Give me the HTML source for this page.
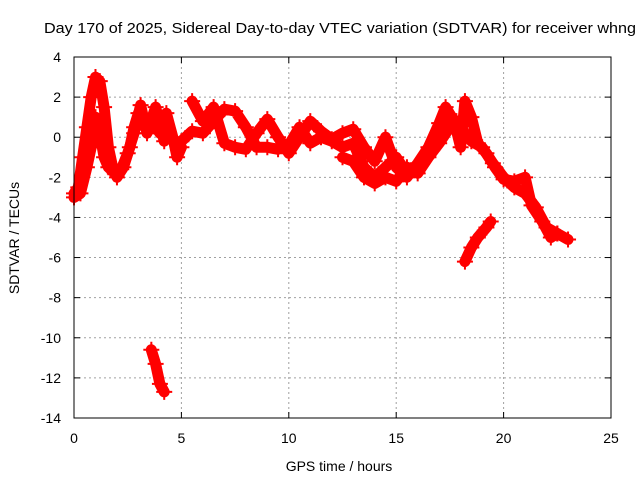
<!DOCTYPE html>
<html><head><meta charset="utf-8"><style>
html,body{margin:0;padding:0;background:#fff;}
svg{display:block;font-family:"Liberation Sans",sans-serif;}
</style></head><body>
<svg id="chart" width="640" height="480" viewBox="0 0 640 480">
<text x="44" y="33" font-size="15" textLength="592" lengthAdjust="spacingAndGlyphs" fill="#000">Day 170 of 2025, Sidereal Day-to-day VTEC variation (SDTVAR) for receiver whng</text>
<g id="grid"></g>
<g id="axes"></g>
<g id="series"></g>
<rect x="74" y="57" width="537" height="361" fill="none" stroke="#000" stroke-width="1"/>
<text x="339" y="471" font-size="14" text-anchor="middle">GPS time / hours</text>
<text transform="translate(19,238) rotate(-90)" font-size="14" text-anchor="middle">SDTVAR / TECUs</text>
</svg>
<script>
const xTicks=[0,5,10,15,20,25];
const yTicks=[-14,-12,-10,-8,-6,-4,-2,0,2,4];
const trackA_t=[0,0.2,0.4,0.6,0.8,1.0,1.2,1.4,1.6,1.8,2.0,2.3,2.6,2.8,3.0,3.3,3.6,4.0,4.3,4.6,4.8,5.0];
const trackA_v=[-2.8,-2.5,-1,0.5,2,3,2.8,1.5,-0.5,-1.5,-2.0,-1.5,-0.5,0.5,1.2,0.5,0.8,0.2,1.2,0,-1.0,-0.5];
const trackB_t=[0,0.3,0.6,0.8,1.0,1.2,1.4,1.6,1.9,2.2,2.5,2.8,3.1,3.4,3.8,4.2];
const trackB_v=[-3,-2.8,-1.5,-0.5,1.0,0.2,-1,-1.5,-1.8,-1.6,-0.8,0.2,1.6,0.2,1.5,-0.2];
const trackC_t=[5,5.5,6,6.5,7,7.5,8,8.5,9,9.5,10,10.5,11,11.5,12,12.5,13,13.5,14,14.5,15,15.5,16,16.5,17,17.5,17.8,18.2,18.5,19,19.5,20,20.5,21,21.5,22,22.5,23];
const trackC_v=[-0.2,0.3,0.2,0.8,1.4,1.3,0.5,-0.5,-0.5,-0.6,-0.4,0.5,-0.3,0,-0.2,-0.5,-0.3,-1.5,-2,-1.5,-1,-1.8,-1.5,-0.8,0,1.0,0.8,0.2,-0.2,-0.5,-1.3,-2,-2.5,-2.8,-3.5,-4.5,-4.8,-5.1];
const trackD_t=[5.5,6,6.5,7,7.5,8,8.5,9,9.5,10,10.5,11,11.5,12,12.5,13,13.5,14,14.5,15,15.5,16,16.5,17,17.3,17.7,18,18.2,18.5,18.8,19.2,19.6,20,20.5,21,21.3,21.8,22.2,22.5];
const trackD_v=[1.8,0.8,1.5,-0.3,-0.5,-0.6,0.2,0.9,0,-0.8,0,0.8,0.3,-0.1,0.2,0.4,-0.5,-1.2,0,-1.5,-2,-1.3,-0.5,0.7,1.5,0.8,-0.5,1.8,1.0,-0.3,-0.8,-1.5,-2.1,-2.2,-2.0,-3.4,-4.2,-5,-4.8];
const trackE_t=[12.5,13,13.5,14,14.5,15,15.5,16,16.5,17,17.5];
const trackE_v=[-1,-1.2,-2,-2.3,-2.0,-2.2,-1.5,-1.8,-1.0,-0.3,0.5];
const trackF_t=[3.6,3.8,4.0,4.2];
const trackF_v=[-10.6,-11.3,-12.3,-12.7];
const trackG_t=[18.2,18.5,18.8,19.2,19.4];
const trackG_v=[-6.2,-5.5,-5,-4.5,-4.2];
const X0=74,X1=611,Y0=418,Y1=57;
function xs(h){return X0+(h-0)/(25-0)*(X1-X0);}
function ys(v){return Y0-(v+14)/(4+14)*(Y0-Y1);}
const NS="http://www.w3.org/2000/svg";
function mk(tag,attrs,parent){const e=document.createElementNS(NS,tag);for(const k in attrs)e.setAttribute(k,attrs[k]);parent.appendChild(e);return e;}
const grid=document.getElementById('grid'),axes=document.getElementById('axes'),series=document.getElementById('series');
xTicks.forEach(t=>{const x=xs(t);
 if(t>0&&t<25){const g=mk('line',{x1:x,x2:x,y1:Y1,y2:Y0,stroke:'#a0a0a0','stroke-dasharray':'2,3'},grid);
 
 }
 const a=mk('line',{x1:x,x2:x,y1:Y0,y2:Y0-6,stroke:'#000'},axes);
 
 
 const b=mk('line',{x1:x,x2:x,y1:Y1,y2:Y1+6,stroke:'#000'},axes);
 
 
 const l=mk('text',{x:x,y:443,'font-size':14,'text-anchor':'middle'},axes);l.textContent=t;
 
 
});
yTicks.forEach(t=>{const y=ys(t);
 if(t>-14&&t<4){const g=mk('line',{x1:X0,x2:X1,y1:y,y2:y,stroke:'#a0a0a0','stroke-dasharray':'2,3'},grid);
 
 }
 const a=mk('line',{x1:X0,x2:X0+6,y1:y,y2:y,stroke:'#000'},axes);
 
 
 const b=mk('line',{x1:X1,x2:X1-6,y1:y,y2:y,stroke:'#000'},axes);
 
 
 const l=mk('text',{x:61,y:y+5,'font-size':14,'text-anchor':'end'},axes);l.textContent=t;
 
 
});
const tracks=[[trackA_t,trackA_v],[trackB_t,trackB_v],[trackC_t,trackC_v],[trackD_t,trackD_v],[trackE_t,trackE_v],[trackF_t,trackF_v],[trackG_t,trackG_v]];
tracks.forEach(([T,V],i)=>{
 const pts=T.map((t,j)=>xs(t).toFixed(1)+','+ys(V[j]).toFixed(1)).join(' ');
 const p=mk('polyline',{points:pts,fill:'none',stroke:'#ff0000','stroke-width':11,'stroke-linejoin':'round','stroke-linecap':'round'},series);
 
 
 T.forEach((t,j)=>{const x=xs(t),y=ys(V[j]);
  const m=mk('path',{d:`M${x-8},${y}H${x+8}M${x},${y-8}V${y+8}`,stroke:'#ff0000','stroke-width':2},series);
  
  
 });
});
</script>
</body></html>
